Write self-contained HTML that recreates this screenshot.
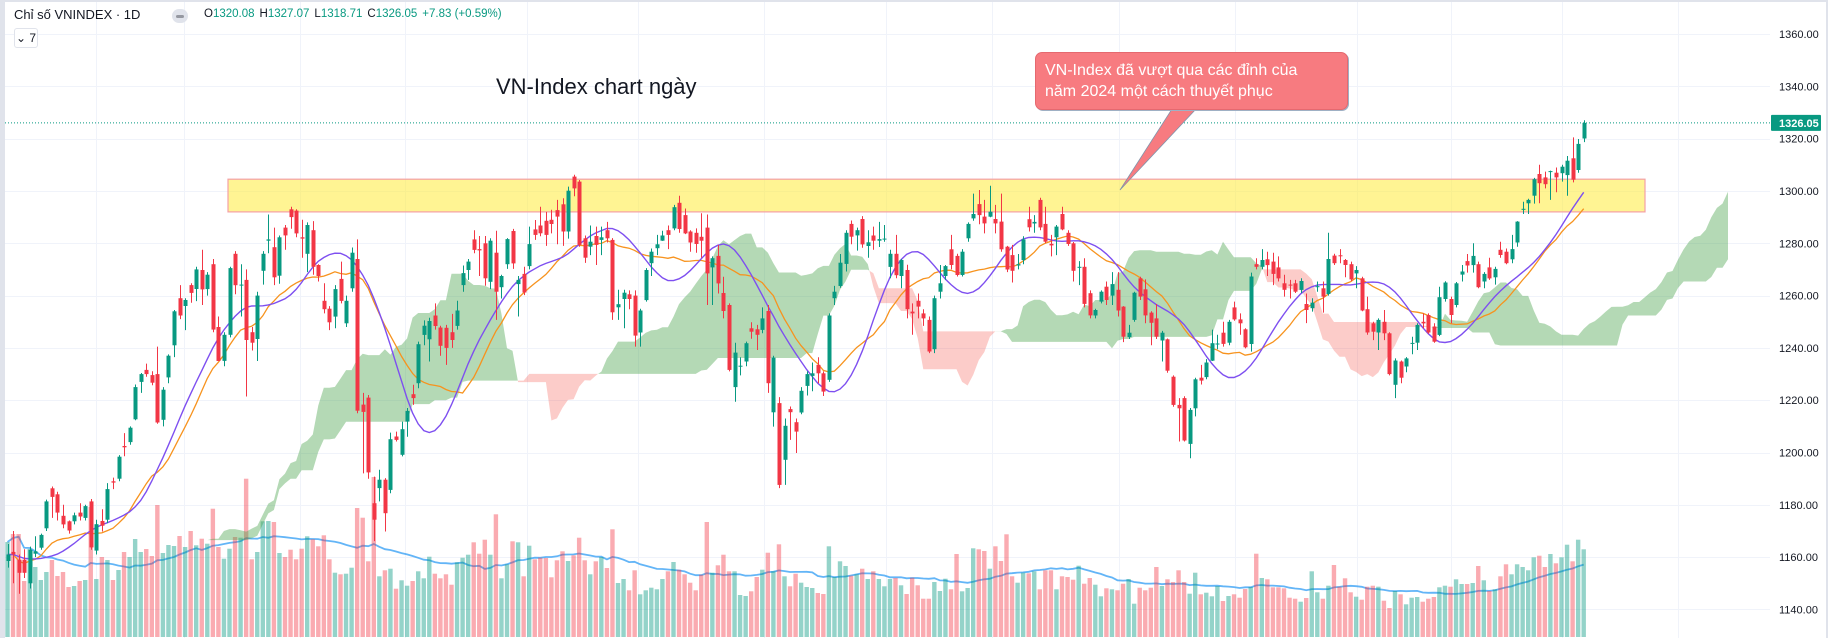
<!DOCTYPE html>
<html>
<head>
<meta charset="utf-8">
<style>
html,body{margin:0;padding:0;background:#fff;}
body{width:1828px;height:638px;overflow:hidden;position:relative;font-family:"Liberation Sans","Noto Sans CJK SC",sans-serif;}
#chart{position:absolute;left:0;top:0;}
.hdr{position:absolute;left:14px;top:7px;font-size:13px;color:#131722;white-space:nowrap;}
.ohlc{position:absolute;left:204px;top:8px;font-size:11.5px;color:#131722;white-space:nowrap;}
.ohlc span.v{color:#089981;margin-right:5px;}
.dot{position:absolute;left:172px;top:9px;width:16px;height:14px;border-radius:7px;background:#e0e3eb;}
.dot i{position:absolute;left:4px;top:6px;width:8px;height:3px;border-radius:2px;background:#9598a1;}
.btn7{position:absolute;left:14px;top:28px;width:22px;height:18px;border:1px solid #e0e3eb;border-radius:3px;font-size:12px;color:#131722;line-height:18px;text-align:center;background:#fff;}
.title{position:absolute;left:496px;top:74px;font-size:22px;color:#131722;white-space:nowrap;}
.callout{position:absolute;left:1035px;top:52px;width:313px;height:58px;background:#f77b80;border:1px solid #e5696f;border-radius:7px;box-shadow:1px 1px 0 #9fb0c4;color:#fff;font-size:16px;line-height:21px;box-sizing:border-box;padding:7px 0 0 9px;white-space:nowrap;}
</style>
</head>
<body>
<svg id="chart" width="1828" height="638" xmlns="http://www.w3.org/2000/svg"></svg>
<div class="hdr">Chỉ số VNINDEX · 1D</div>
<div class="dot"><i></i></div>
<div class="ohlc">O<span class="v">1320.08</span>H<span class="v">1327.07</span>L<span class="v">1318.71</span>C<span class="v">1326.05</span><span class="v">+7.83 (+0.59%)</span></div>
<div class="btn7">⌄ 7</div>
<div class="title">VN-Index chart ngày</div>
<div class="callout">VN-Index đã vượt qua các đỉnh của<br>năm 2024 một cách thuyết phục</div>
<script>
const opens=[1158.5,1162,1159,1159,1150,1161.3,1163.6,1171,1186.3,1184,
1175.8,1173.7,1173.7,1177,1175,1181.3,1162.5,1173.8,1174.3,1189,
1190,1202.5,1204,1212.7,1227,1231.6,1229.6,1230,1212.5,1228.7,
1241,1259,1256,1264,1262.5,1269.8,1262.5,1272,1248,1235,
1245,1276,1263.8,1266,1246,1243.4,1269.5,1281,1278.5,1267.6,
1286,1293,1292.5,1282.3,1276,1285,1271.7,1258,1255,1252,
1266.4,1249.4,1262.8,1274,1218.3,1221,1180.6,1186.4,1189.6,1185.7,
1206.1,1199.1,1211.8,1222.3,1226.5,1245,1243.3,1252.4,1247.8,1247.7,
1246,1248.4,1264,1269.8,1281.5,1277.8,1280,1265.3,1276.4,1263.2,
1272,1284.7,1264.4,1268.3,1271.3,1285.3,1286.8,1288.6,1289,1292.7,
1294.9,1284.5,1305.5,1303.6,1281.9,1278.7,1282.8,1281.3,1285,1281.3,
1255.5,1258.7,1260.5,1260,1245.9,1258.3,1272.4,1278.1,1281,1285,
1285.7,1295.5,1290.8,1284.5,1284,1282.5,1286,1270.8,1275.2,1261,
1256.4,1225,1232.8,1234.8,1247.5,1247.1,1246.9,1254.1,1215.4,1218.9,
1197.2,1216.6,1211.6,1215.3,1225.5,1229.3,1233.5,1230.3,1227.8,1259,
1263.7,1272.1,1287.4,1283,1289.3,1279,1283,1281,1281.4,1271,
1276,1267.5,1269.8,1253.9,1258,1253.2,1250.7,1239.5,1261.5,1267.5,
1277.7,1275.2,1267.9,1281.9,1289.5,1295,1290.2,1290.2,1289.3,1288.3,
1278.7,1275.5,1271.5,1273.6,1289.2,1287.6,1296.6,1287.4,1279.8,1282.3,
1291.2,1284,1280,1270.6,1271,1260.9,1252.4,1257.7,1263.4,1260,
1262.2,1255.8,1244.1,1250.7,1266.6,1262.4,1253.5,1251.3,1242.8,1243.3,
1229,1218.2,1220.8,1203.3,1216.9,1228.6,1228.8,1235.1,1241.3,1245.8,
1242,1255.5,1250.9,1247.1,1241.5,1272,1271,1273.9,1273,1270.8,
1264.7,1264.2,1264.7,1262.2,1256.8,1255.2,1263.2,1262.8,1260.6,1275.3,
1275.4,1273.6,1272,1268.5,1266.6,1254.8,1249.4,1245.9,1250,1245.6,
1225.9,1234.8,1232.9,1241.5,1242,1250,1252.6,1248.2,1245,1258.7,
1258.7,1256.4,1268,1273.2,1271.7,1272,1265.4,1270.8,1267,1277.5,
1276.8,1273.9,1280.3,1292.8,1295.3,1298.2,1306.5,1305.2,1307.2,1307,
1306.8,1306.1,1312.5,1308,1320.08];
const closes=[1161,1161,1154,1154,1162.8,1162.2,1168.5,1181.3,1183,1177,
1172.5,1170.2,1176,1175.5,1179.5,1163.7,1172.6,1172,1186,1188.5,
1198.4,1202,1209.5,1225,1230,1230,1226.7,1211.5,1224,1237,
1254,1252.4,1258.3,1261,1270,1262.4,1268,1247,1235,1245,
1270.5,1264,1264.2,1243,1242,1260,1276,1281.5,1267,1282.3,
1283,1290,1283.8,1281.8,1287,1271,1267.5,1254.8,1249.8,1262.5,
1258,1258,1276.4,1216,1215.5,1192.4,1174.3,1189.6,1176.8,1205.1,
1204.8,1208.9,1215.9,1220.8,1241.4,1248.5,1250.3,1248.4,1240.8,1240,
1243,1254.3,1268.6,1273,1277.5,1277.3,1266.6,1281,1261.5,1267.5,
1281.6,1272.3,1266,1261.2,1279.7,1283.2,1283.8,1283.2,1287.4,1290.2,
1284.5,1300.1,1301,1279.4,1274.5,1280.6,1279.4,1282.3,1281.9,1253.6,
1256.7,1261.1,1258.7,1244.7,1254.3,1269.8,1276.8,1279.6,1283,1283.2,
1293.8,1285.5,1283.8,1280.3,1279.7,1281,1268.5,1274.3,1264.7,1254.1,
1231.6,1238.2,1233.2,1241.8,1246.2,1245,1251.3,1226.5,1236.3,1187.6,
1210.2,1215.4,1208,1223.6,1230,1230.3,1230.3,1223.3,1252.4,1261.5,
1272.6,1284,1282.5,1285,1279.6,1280.4,1281,1281.6,1281.8,1276,
1267.8,1273.6,1254.8,1253.2,1255.8,1251.3,1238.6,1259,1264.7,1271.3,
1271.7,1267.9,1276.8,1287.4,1291.2,1290.8,1287.6,1292.1,1287.6,1277.7,
1270,1269.5,1272,1281.5,1286.1,1288.2,1286.1,1280.6,1279.2,1286.4,
1285.3,1279.7,1269.5,1271,1256.8,1252.4,1254.5,1261.5,1258.3,1264.4,
1254.3,1244.3,1245.8,1261.1,1259.6,1252.4,1249.6,1244.3,1245.8,1231.3,
1218.2,1216.9,1204.6,1216.3,1228,1227.5,1234.4,1241.8,1241.7,1241.5,
1250,1250.9,1249.4,1240.2,1267.3,1271,1273.6,1271.7,1268.3,1266.6,
1262.2,1263.8,1261.5,1265.6,1254.5,1257.3,1263.6,1259.6,1274,1272.4,
1275,1271.7,1266.2,1269.8,1254.3,1245.9,1246.2,1250.7,1245.6,1230,
1235.2,1228.6,1236,1241.9,1248.8,1249.4,1245.9,1242.4,1259.4,1265,
1252.6,1264.7,1269.2,1271.5,1275.2,1263.2,1268.3,1266.6,1270.2,1275.5,
1272.4,1277.8,1288.3,1293.2,1296.6,1304.5,1303,1302.6,1307.6,1305.2,
1309.3,1311.6,1304.3,1318,1326.05];
const highs=[1165,1170,1161,1163,1164,1168,1169,1182,1187,1185,
1180,1174,1177,1180.6,1180,1182.2,1174.3,1178.3,1188.3,1190.4,
1199,1207.4,1210,1226,1230.4,1234,1231.1,1240.5,1225,1237.5,
1254.5,1264,1259,1264.7,1271,1277.5,1269,1274,1252,1246,
1271,1277,1272,1270,1248,1261.5,1277,1291,1286,1283,
1287,1294,1293,1289,1288,1288.5,1272,1264.7,1256,1264,
1273,1260,1278.4,1281.5,1222.8,1222,1190.8,1193.4,1190.2,1207.6,
1208,1211.8,1217,1225.9,1242.4,1250.5,1251.5,1257,1248.5,1248.8,
1253,1258,1271.5,1274,1285,1282.8,1282.8,1281.9,1284.8,1268,
1282,1285.5,1267.5,1271,1286.4,1288.9,1294,1292,1292.8,1296.6,
1297.2,1301.7,1306.2,1304.2,1283,1286.8,1286.4,1286.4,1288.2,1282,
1262.2,1262.2,1262,1262,1255,1270.5,1278,1283.2,1284.8,1286.8,
1294.7,1298.2,1293.3,1285,1285.7,1291.5,1291,1275,1279.4,1267.2,
1257,1242,1236.4,1242.4,1249.8,1248.8,1255.5,1256.4,1237,1221.2,
1213,1217.6,1213,1225,1231,1234.4,1236.4,1231,1253.2,1263.7,
1275.9,1285,1288.7,1286,1290.4,1285,1286.4,1288.2,1287,1277.5,
1283.2,1274,1271.8,1257,1260.8,1254.8,1252,1260,1271.7,1271.7,
1283.2,1276,1277.8,1288,1299,1300.4,1296.6,1302,1294.7,1299,
1279,1279.4,1275.9,1282.7,1294,1290.8,1297.4,1294,1283.2,1287,
1294,1285,1280.5,1273.2,1274.3,1262,1255,1262,1265.4,1269,
1269,1256,1248.8,1261.5,1267.2,1266.2,1254,1256.8,1246.5,1243.6,
1229.5,1220.8,1221.5,1217,1228.6,1233.5,1235.7,1247,1245,1250,
1250.7,1257.7,1253.2,1247.5,1268.8,1274.3,1277.8,1276.8,1276.4,1275,
1268,1266,1266,1266.6,1260.8,1259,1265.4,1265.4,1284,1276,
1277.8,1274,1273,1271.3,1267.2,1259.6,1250,1251.3,1254.5,1246,
1236,1235.2,1236.5,1244.3,1249.4,1253.2,1253.2,1249.4,1263.4,1265.5,
1259.6,1265.2,1271.7,1275.9,1280,1273,1269,1274.5,1271,1280.6,
1278,1283.2,1288.5,1295.9,1297,1305,1310,1307.4,1307.8,1309,
1310,1313.4,1320.5,1319.9,1327.07];
const lows=[1156,1150,1146,1152,1148,1160,1162.8,1170,1175,1174,
1171,1169,1172.5,1174,1174,1162.8,1161,1169.8,1173,1186,
1189,1198.6,1203,1212.3,1222.8,1229,1225.7,1211,1210,1226.5,
1236.5,1251,1246.8,1257.3,1257.9,1256.4,1260,1246,1235,1233,
1244,1260.5,1252,1221.4,1239,1235,1264.2,1276.2,1264,1264.5,
1277.5,1285.6,1282.3,1274.5,1269,1268,1265.4,1253.2,1246.8,1247.5,
1257,1248,1261.5,1215,1192,1190,1166.1,1181.3,1169.8,1184.4,
1204.2,1198.5,1206,1218.2,1224.6,1241,1234.8,1247,1237,1233.5,
1240,1247,1261.5,1266,1276.2,1267.5,1263.8,1262.5,1250.7,1258.9,
1270.2,1270.2,1252,1260.2,1270,1281.3,1282.7,1279,1283.8,1279.6,
1279,1281.8,1298,1278.7,1272.5,1275.5,1271.7,1275.5,1280.3,1250.7,
1250.7,1247.5,1254.8,1240.5,1240.5,1257.7,1267.5,1275.5,1280.9,1277.8,
1285,1284,1283.5,1276.8,1276.4,1274.5,1256.4,1256.4,1260.8,1251.3,
1231,1219.4,1229.5,1233,1243.5,1239.2,1245.6,1222.8,1209.9,1186.4,
1187.6,1204.8,1199.8,1214.6,1221.8,1223.4,1226.5,1221.6,1227,1256.4,
1263,1269.2,1279.6,1277.2,1278.3,1274.5,1277.5,1278.6,1280.6,1266.6,
1266.6,1262.8,1251.3,1245,1251.3,1248.4,1238,1238,1258.9,1266,
1270,1267.3,1267.3,1280.6,1288.6,1287.3,1283.8,1290,1283.8,1276.8,
1269,1265,1270,1272,1284.5,1284,1285,1280,1275,1275.5,
1285,1279,1265.4,1264,1255.5,1251.3,1251.3,1257,1256.4,1256.4,
1252,1242.2,1243.4,1250,1258.3,1249.4,1241,1243.4,1234.8,1230.5,
1217.5,1204.2,1204.2,1197.8,1213.8,1226,1228,1235,1239.5,1240.5,
1241,1250.4,1245,1239.8,1238.6,1270,1270,1267.5,1264,1265.4,
1259.6,1258.9,1261,1261,1249.5,1253.9,1261.5,1253.5,1260,1271.7,
1272.4,1267,1265.5,1262.8,1254,1245,1243,1239.2,1243,1229.5,
1220.8,1226.5,1230.7,1237.6,1239.2,1247.5,1245.4,1242,1244.5,1257.7,
1249.4,1255.5,1265.4,1268.8,1268.8,1262.8,1262.8,1266,1264.2,1274.5,
1272,1272.4,1278.7,1291.2,1291.2,1295.2,1295.3,1301,1296.6,1299.5,
1303.6,1298.2,1303.3,1307,1318.71];
const volumes=[570,618,618,336,528,420,342,390,462,366,
390,300,306,336,342,780,348,480,462,342,
402,510,480,588,510,528,486,792,504,552,
546,606,540,636,
550,590,560,770,540,470,530,600,596,950,
466,510,694,696,690,504,480,524,466,530,
604,586,544,610,466,386,376,380,416,774,
716,454,960,364,400,410,290,340,308,336,
394,352,482,380,352,376,314,448,476,494,
568,500,584,494,736,352,436,574,568,364,
548,466,476,474,358,460,514,456,490,596,
460,376,454,480,414,646,324,348,280,400,
256,280,296,286,348,
394,450,404,376,326,280,374,690,386,430,
494,394,394,252,246,274,360,404,506,394,
556,364,304,380,326,300,294,264,258,544,
360,454,426,368,376,410,348,394,348,304,
348,354,310,258,356,310,230,230,330,276,
350,286,498,274,294,532,526,516,410,544,
456,616,364,326,386,382,394,286,400,400,
286,364,360,344,428,320,354,314,244,292,
286,280,320,348,
200,296,280,296,420,306,346,330,400,330,
260,386,256,266,244,306,216,246,256,236,
288,300,500,354,346,298,298,292,236,230,
212,234,394,268,230,308,432,302,352,268,
242,224,302,308,302,218,174,276,256,196,
236,240,212,230,240,298,308,302,346,318,
318,324,426,340,276,286,364,436,376,436,
420,400,478,488,420,498,442,478,554,454,
584,526];
const priceTicks=[1360,1340,1320,1300,1280,1260,1240,1220,1200,1180,1160,1140];
const lastPrice=1326.05;
const zoneTop=1304.5, zoneBottom=1292;

const NS='http://www.w3.org/2000/svg';
const svg=document.getElementById('chart');
const PL=5, PR=1770;
const x0=7.5, step=5.55;
function X(i){return x0+i*step;}
function Y(p){return 191-(p-1300)*2.615;}
function VY(v){return 637-v/6;}
function mk(tag,attrs,parent){const e=document.createElementNS(NS,tag);for(const k in attrs)e.setAttribute(k,attrs[k]);(parent||svg).appendChild(e);return e;}

// frame
let e;
e=mk('rect',{x:0,y:0,width:1828,height:638,fill:'#ffffff'});


e=mk('rect',{x:0,y:0,width:5,height:638,fill:'#e0e3eb'});


e=mk('rect',{x:0,y:0,width:1828,height:2,fill:'#e0e3eb'});


e=mk('rect',{x:1826,y:0,width:2,height:638,fill:'#e0e3eb'});



const defs=mk('defs',{});
const cp=mk('clipPath',{id:'plotclip'},defs);
mk('rect',{x:PL,y:2,width:PR-PL,height:636},cp);

// grid
const grid=mk('g',{stroke:'#f0f3fa','stroke-width':1});


[96,184,300,405,527,638,764,886,992,1119,1235,1357,1451,1562,1678].forEach(gx=>{
  const l=mk('line',{x1:gx+0.5,x2:gx+0.5,y1:2,y2:638},grid);
  
  
});
priceTicks.forEach(p=>{
  const y=Math.round(Y(p))+0.5;
  const l=mk('line',{x1:PL,x2:PR,y1:y,y2:y},grid);
  
  
});

const plot=mk('g',{'clip-path':'url(#plotclip)'});



// ichimoku cloud
function hh(i,n){let m=-1e9;for(let k=Math.max(0,i-n+1);k<=i;k++)m=Math.max(m,highs[k]);return m;}
function ll(i,n){let m=1e9;for(let k=Math.max(0,i-n+1);k<=i;k++)m=Math.min(m,lows[k]);return m;}
const cloudPts=[];
for(let j=0;j<closes.length;j++){
  const T=(hh(j,9)+ll(j,9))/2, K=(hh(j,26)+ll(j,26))/2;
  const A=(T+K)/2, B=(hh(j,52)+ll(j,52))/2;
  cloudPts.push({x:X(j+26),a:Y(A),b:Y(B)});
}
const cloudG=mk('g',{});


(function(){
  let run=[], sign=null;
  function flush(){
    if(run.length<2){run=[];return;}
    const top=run.map(p=>p.x.toFixed(1)+','+p.a.toFixed(1));
    const bot=run.slice().reverse().map(p=>p.x.toFixed(1)+','+p.b.toFixed(1));
    const poly=mk('polygon',{points:top.concat(bot).join(' '),fill:sign?'rgba(67,160,71,0.4)':'rgba(244,67,54,0.27)'},cloudG);
    
    
    run=[];
  }
  for(let k=0;k<cloudPts.length;k++){
    const p=cloudPts[k]; const s=p.a<=p.b;
    if(sign===null){sign=s;run.push(p);continue;}
    if(s!==sign){
      const q=cloudPts[k-1]; const d1=q.a-q.b, d2=p.a-p.b; const t=d1/(d1-d2);
      const xi=q.x+(p.x-q.x)*t, yi=q.a+(p.a-q.a)*t;
      run.push({x:xi,a:yi,b:yi}); flush(); sign=s; run.push({x:xi,a:yi,b:yi});
    }
    run.push(p);
  }
  flush();
})();

// volume
const volG=mk('g',{});


volumes.forEach((v,i)=>{
  const up=closes[i]>=opens[i];
  const r=mk('rect',{x:(X(i)-2.2).toFixed(2),y:VY(v).toFixed(1),width:4.4,height:(637-VY(v)).toFixed(1),fill:up?'rgba(8,153,129,0.43)':'rgba(242,54,69,0.42)'},volG);
  
  
});
function sma(arr,n){return arr.map((v,i)=>{let s=0,c=0;for(let k=Math.max(0,i-n+1);k<=i;k++){s+=arr[k];c++;}return s/c;});}
function pathOf(vals,fy){return vals.map((v,i)=>(i?'L':'M')+X(i).toFixed(1)+','+fy(v).toFixed(1)).join('');}
e=mk('path',{d:pathOf(sma(volumes,20),VY),fill:'none',stroke:'rgba(33,150,243,0.7)','stroke-width':1.8},plot);


plot.appendChild(cloudG);
plot.insertBefore(volG,cloudG);

// resistance zone
e=mk('rect',{x:228,y:Y(zoneTop).toFixed(1),width:1417,height:(Y(zoneBottom)-Y(zoneTop)).toFixed(1),fill:'rgba(255,235,59,0.55)',stroke:'#f4a0a6','stroke-width':1.2},plot);



// moving averages
e=mk('path',{d:pathOf(sma(closes,20),Y),fill:'none',stroke:'#f7931e','stroke-width':1.3},plot);


e=mk('path',{d:pathOf(sma(sma(closes,10),8),Y),fill:'none',stroke:'#7e4ff0','stroke-width':1.4},plot);



// candles
const cg=mk('g',{},plot);


for(let i=0;i<closes.length;i++){
  const up=closes[i]>=opens[i]; const col=up?'#089981':'#f23645';
  const cx=Math.round(X(i));
  const w=mk('line',{x1:cx+0.5,x2:cx+0.5,y1:Y(highs[i]).toFixed(1),y2:Y(lows[i]).toFixed(1),stroke:col,'stroke-width':1},cg);
  
  
  const t=Y(Math.max(opens[i],closes[i])), b=Y(Math.min(opens[i],closes[i]));
  const r=mk('rect',{x:cx-1.5,y:t.toFixed(1),width:4,height:Math.max(1,b-t).toFixed(1),fill:col},cg);
  
  
}

// last price line
const ly=Y(lastPrice);
e=mk('line',{x1:PL,x2:PR,y1:ly.toFixed(1),y2:ly.toFixed(1),stroke:'#089981','stroke-width':1,'stroke-dasharray':'1 2'});



// callout tail
e=mk('polygon',{points:'1172,109 1196,109 1120,190',fill:'#f77b80',stroke:'#8094ab','stroke-width':0.8});



// price axis
const ax=mk('g',{'font-family':'Liberation Sans, sans-serif','font-size':11,fill:'#131722'});


priceTicks.forEach(p=>{
  const t=mk('text',{x:1779,y:(Y(p)+4).toFixed(1)},ax);
  t.textContent=p.toFixed(2);
  
  
});
e=mk('rect',{x:1771,y:(ly-8).toFixed(1),width:50,height:16,fill:'#089981',rx:1});


e=mk('text',{x:1779,y:(ly+4).toFixed(1),'font-family':'Liberation Sans, sans-serif','font-size':11,fill:'#ffffff','font-weight':'bold'});
e.textContent=lastPrice.toFixed(2);


</script>
</body>
</html>
